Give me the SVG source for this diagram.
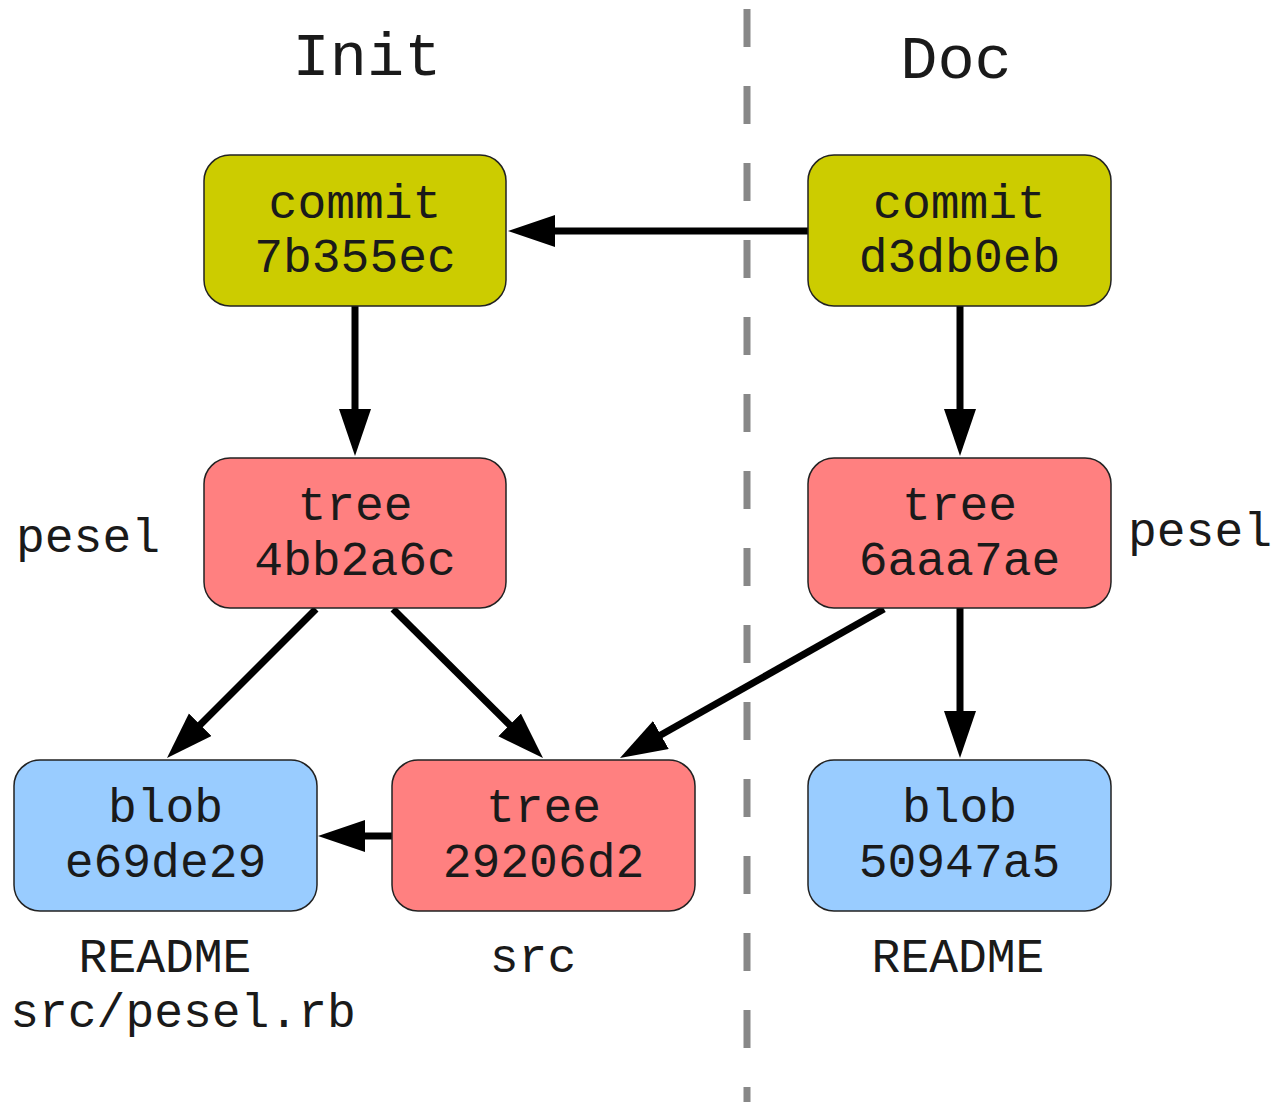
<svg xmlns="http://www.w3.org/2000/svg" width="1276" height="1102" viewBox="0 0 1276 1102">
<style>
text{font-family:"Liberation Mono","DejaVu Sans Mono",monospace;fill:#1a1a1a;text-anchor:middle}
.n{font-size:48px}
.t{font-size:62px}
.commit{fill:#cccc00}
.tree{fill:#ff8080}
.blob{fill:#99ccff}
.box{stroke:#222;stroke-width:1.5}
.c{stroke:#000;stroke-width:7;fill:none;marker-end:url(#ah)}
</style>
<defs>
<marker id="ah" markerUnits="userSpaceOnUse" markerWidth="48" markerHeight="34" refX="17" refY="16" orient="auto" viewBox="0 0 48 34">
<path d="M0,0 L47,16 L0,32 Z" fill="#000"/>
</marker>
</defs>
<rect width="1276" height="1102" fill="#fff"/>
<line x1="747" y1="9" x2="747" y2="1102" stroke="#888" stroke-width="7" stroke-dasharray="38 39"/>
<text class="t" x="367" y="75">Init</text>
<text class="t" x="956" y="78">Doc</text>
<g id="connectors">
<line class="c" x1="808" y1="231" x2="538" y2="231"/>
<line class="c" x1="355" y1="306" x2="355" y2="426"/>
<line class="c" x1="960" y1="306" x2="960" y2="426"/>
<line class="c" x1="316" y1="609" x2="188.2" y2="736.8"/>
<line class="c" x1="393" y1="609" x2="521.7" y2="736.9"/>
<line class="c" x1="884" y1="609" x2="646.1" y2="743.3"/>
<line class="c" x1="960" y1="608" x2="960" y2="728"/>
<line class="c" x1="392" y1="836" x2="348" y2="836"/>
</g>
<g id="commit-7b355ec">
<rect class="box commit" x="204" y="155" width="302" height="151" rx="26"/>
<text class="n" x="355" y="218">commit</text>
<text class="n" x="355" y="272">7b355ec</text>
</g>
<g id="commit-d3db0eb">
<rect class="box commit" x="808" y="155" width="303" height="151" rx="26"/>
<text class="n" x="959.5" y="218">commit</text>
<text class="n" x="959.5" y="272">d3db0eb</text>
</g>
<g id="tree-4bb2a6c">
<rect class="box tree" x="204" y="458" width="302" height="150" rx="26"/>
<text class="n" x="355" y="520">tree</text>
<text class="n" x="355" y="575">4bb2a6c</text>
</g>
<g id="tree-6aaa7ae">
<rect class="box tree" x="808" y="458" width="303" height="150" rx="26"/>
<text class="n" x="959.5" y="520">tree</text>
<text class="n" x="959.5" y="575">6aaa7ae</text>
</g>
<g id="blob-e69de29">
<rect class="box blob" x="14" y="760" width="303" height="151" rx="26"/>
<text class="n" x="165.5" y="822">blob</text>
<text class="n" x="165.5" y="877">e69de29</text>
</g>
<g id="tree-29206d2">
<rect class="box tree" x="392" y="760" width="303" height="151" rx="26"/>
<text class="n" x="543.5" y="822">tree</text>
<text class="n" x="543.5" y="877">29206d2</text>
</g>
<g id="blob-50947a5">
<rect class="box blob" x="808" y="760" width="303" height="151" rx="26"/>
<text class="n" x="959.5" y="822">blob</text>
<text class="n" x="959.5" y="877">50947a5</text>
</g>
<g id="labels">
<text class="n" x="88" y="552">pesel</text>
<text class="n" x="1200" y="546">pesel</text>
<text class="n" x="165" y="972">README</text>
<text class="n" x="183" y="1027">src/pesel.rb</text>
<text class="n" x="533" y="972">src</text>
<text class="n" x="958" y="972">README</text>
</g>
</svg>
